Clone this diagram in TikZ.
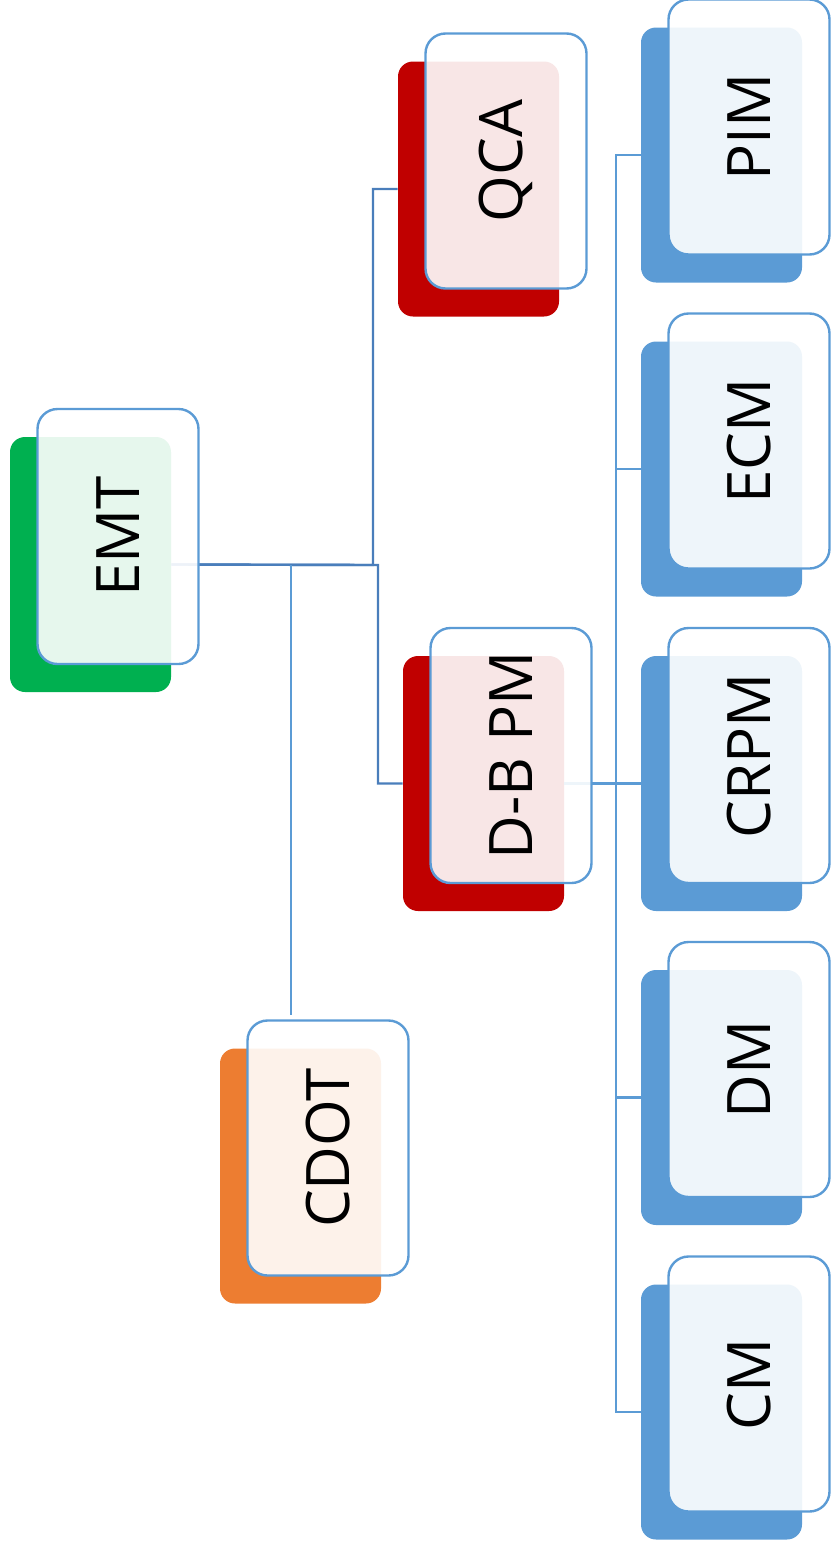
\documentclass[tikz,border=0pt]{standalone}
\usepackage{fontspec}
\setmainfont{Open Sans}
\usetikzlibrary{calc}
\definecolor{cgreen}{HTML}{00B050}
\definecolor{cred}{HTML}{C00000}
\definecolor{corange}{HTML}{ED7D31}
\definecolor{cblue}{HTML}{5B9BD5}
\definecolor{clink}{HTML}{4A7EBB}
\tikzset{
  backbox/.style={draw=none, fill=#1, rounded corners=7.5pt,
    minimum width=80.5pt, minimum height=127.5pt, inner sep=0pt},
  frontbox/.style={draw=cblue, line width=1.2pt, fill=white, fill opacity=0.9,
    draw opacity=1, text opacity=1, rounded corners=10pt,
    minimum width=127.5pt, minimum height=80.5pt, inner sep=0pt,
    font=\fontsize{30}{36}\selectfont, rotate=90},
  mainlink/.style={draw=clink, line width=1.2pt},
  sublink/.style={draw=cblue, line width=1.2pt},
  thinlink/.style={draw=cblue, line width=0.7pt},
}
\begin{document}
\begin{tikzpicture}[x=0.5pt,y=-0.5pt]
\useasboundingbox (0,0) rectangle (830,1547);

% junction points of the elbow connectors
\coordinate (j1) at (373,565);
\coordinate (j2) at (378,565);
\coordinate (j3) at (291,565);
\coordinate (j4) at (616,783.5);

% coloured back plates
\node[backbox=cgreen]  (emtb)  at (90.5,564.5) {};
\node[backbox=cred]    (qcab)  at (478.5,189) {};
\node[backbox=cred]    (dbpmb) at (483.5,783.5) {};
\node[backbox=corange] (cdotb) at (300.5,1176) {};
\node[backbox=cblue]   (pimb)  at (721.5,155) {};
\node[backbox=cblue]   (ecmb)  at (721.5,469) {};
\node[backbox=cblue]   (crpmb) at (721.5,783.5) {};
\node[backbox=cblue]   (dmb)   at (721.5,1097.5) {};
\node[backbox=cblue]   (cmb)   at (721.5,1412) {};

% connectors
\draw[mainlink] (emtb.east) -- (j1) |- (qcab.west);
\draw[mainlink] (emtb.east) -- (j2) |- (dbpmb.west);
\draw[sublink] (dbpmb.east) -- (j4);
\draw[sublink] (j4) |- (pimb.west);
\draw[sublink] (j4) |- (ecmb.west);
\draw[sublink] (j4) -- (crpmb.west);
\draw[sublink] (j4) |- (dmb.west);
\draw[sublink] (j4) |- (cmb.west);

% translucent front cards with labels
\node[frontbox] (emt)  at (118,536.5) {EMT};
\node[frontbox] (qca)  at (506,161) {QCA};
\node[frontbox] (dbpm) at (511,755.5) {D-B PM};
\node[frontbox] (cdot) at (328,1148) {CDOT};
\node[frontbox] (pim)  at (749,127) {PIM};
\node[frontbox] (ecm)  at (749,441) {ECM};
\node[frontbox] (crpm) at (749,755.5) {CRPM};
\node[frontbox] (dm)   at (749,1069.5) {DM};
\node[frontbox] (cm)   at (749,1384) {CM};

\draw[thinlink] (j3) -- ($(j3 |- cdot.east)+(0,-4)$);
\end{tikzpicture}
\end{document}
